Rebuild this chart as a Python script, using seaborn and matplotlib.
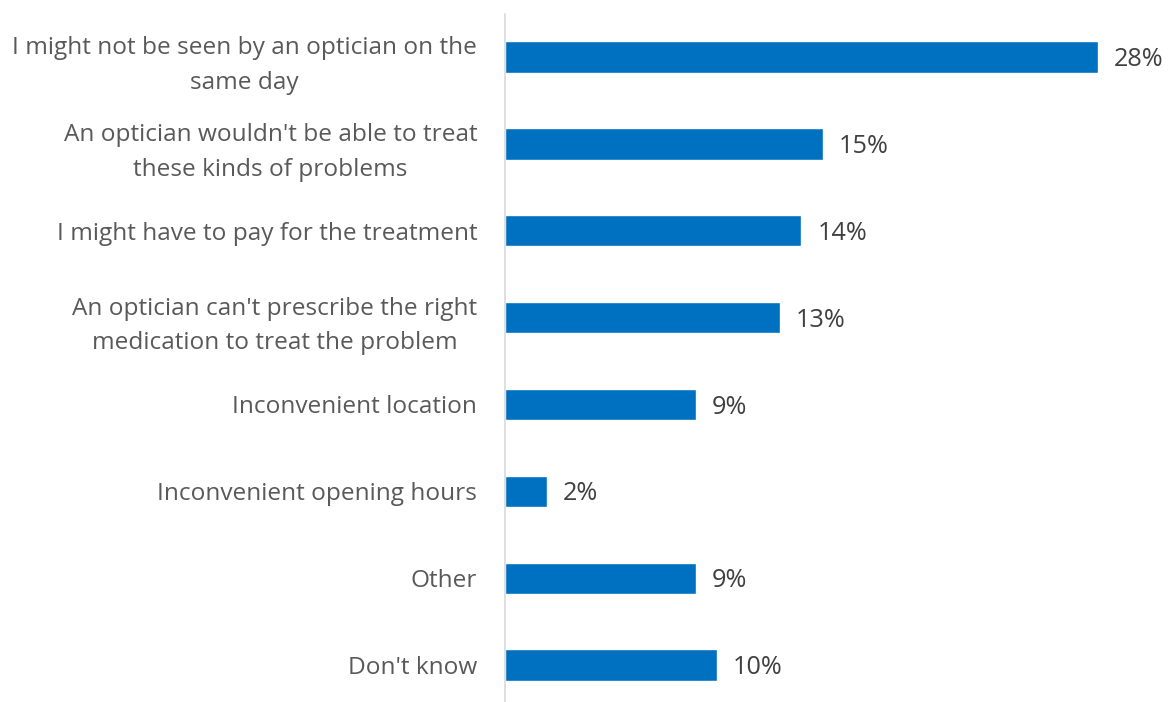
import matplotlib
matplotlib.use("Agg")
import matplotlib.pyplot as plt
import seaborn as sns
import pandas as pd

categories = [
    "I might not be seen by an optician on the\nsame day",
    "An optician wouldn't be able to treat\nthese kinds of problems",
    "I might have to pay for the treatment",
    "An optician can't prescribe the right\nmedication to treat the problem",
    "Inconvenient location",
    "Inconvenient opening hours",
    "Other",
    "Don't know",
]
values = [28, 15, 14, 13, 9, 2, 9, 10]

df = pd.DataFrame({"reason": categories, "pct": values})

sns.set_theme(style="white")
plt.rcParams["font.family"] = ["Open Sans", "DejaVu Sans"]

fig = plt.figure(figsize=(11.73, 7.02), dpi=100)
ax = fig.add_axes([505 / 1173, 0.0, (1098 - 505) / 1173, 1 - 13.6 / 702])

sns.barplot(data=df, x="pct", y="reason", order=categories, color="#0070C0",
            width=0.36, saturation=1, ax=ax)

ax.set_xlim(0, 28)
ax.set_ylim(7.426, -0.5)
ax.set_xlabel("")
ax.set_ylabel("")
ax.set_xticks([])
for s in ["top", "right", "bottom"]:
    ax.spines[s].set_visible(False)
ax.spines["left"].set_color("#D9D9D9")
ax.spines["left"].set_linewidth(1.2)

ax.tick_params(axis="y", length=0, pad=20)
for lbl in ax.get_yticklabels():
    lbl.set_fontsize(17.6)
    lbl.set_color("#595959")
    lbl.set_horizontalalignment("right")
    lbl.set_multialignment("center")
    lbl.set_linespacing(1.6)

for i, v in enumerate(values):
    ax.text(v + 0.75, i + 0.03, f"{v}%", va="center", ha="left",
            fontsize=18.2, color="#404040", clip_on=False)

fig.savefig("out.png", dpi=100)
